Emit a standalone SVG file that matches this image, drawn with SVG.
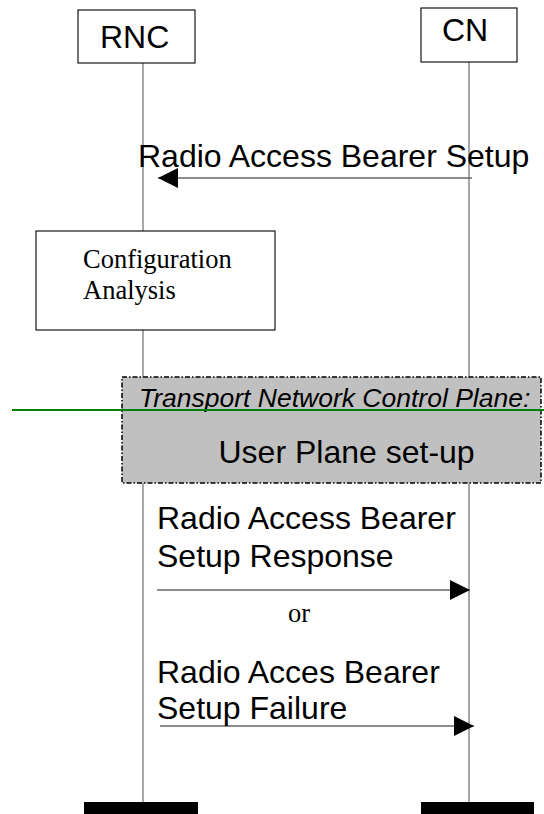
<svg xmlns="http://www.w3.org/2000/svg" width="544" height="814" viewBox="0 0 544 814">
<style>
.life{stroke:#777;stroke-width:1.3;fill:none}
.msg{stroke:#666;stroke-width:1.3;fill:none}
.box{fill:#fff;stroke:#000;stroke-width:1.1}
.ar{font-family:"Liberation Sans",Arial,sans-serif;font-size:32px;fill:#000}
.tm{font-family:"Liberation Serif","Times New Roman",serif;font-size:26.5px;fill:#000}
.bar{fill:#000}
</style>
<defs>
<marker id="ah" markerWidth="20" markerHeight="20" refX="20" refY="10" orient="auto" markerUnits="userSpaceOnUse">
<path d="M0,0 L20,10 L0,20 Z" fill="#000"/>
</marker>
</defs>
<g id="lifelines">
<line class="life" x1="143" y1="63" x2="143" y2="803"/>
<line class="life" x1="469" y1="62" x2="469" y2="803"/>
</g>
<g id="rnc">
<rect class="box" x="78" y="10" width="117" height="53"/>
<text class="ar" x="100" y="48">RNC</text>
</g>
<g id="cn">
<rect class="box" x="421" y="8" width="96" height="54"/>
<text class="ar" x="442" y="41">CN</text>
</g>
<g id="config">
<rect class="box" x="36" y="231" width="239" height="99"/>
<text class="tm" x="83" y="268">Configuration</text>
<text class="tm" x="83" y="299">Analysis</text>
</g>
<g id="tnc">
<rect x="122" y="377" width="419" height="106" fill="#c0c0c0" stroke="#000" stroke-width="1.5" stroke-dasharray="5,2,1.5,2"/>
<text x="139" y="407" font-family="'Liberation Sans',Arial,sans-serif" font-size="26.5" font-style="italic" fill="#000">Transport Network Control Plane:</text>
<text class="ar" x="218.5" y="463">User Plane set-up</text>
<line x1="12" y1="410" x2="544" y2="410" stroke="#008000" stroke-width="1.8"/>
</g>
<g id="connectors">
<line class="msg" x1="472" y1="178" x2="158" y2="178" marker-end="url(#ah)"/>
<line class="msg" x1="157" y1="590" x2="470" y2="590" marker-end="url(#ah)"/>
<line class="msg" x1="160" y1="726" x2="474" y2="726" marker-end="url(#ah)"/>
</g>
<g id="labels">
<text class="ar" x="138" y="167">Radio Access Bearer Setup</text>
<text class="ar" x="157" y="529">Radio Access Bearer</text>
<text class="ar" x="157" y="567">Setup Response</text>
<text class="tm" x="288" y="622" font-size="20">or</text>
<text class="ar" x="157" y="683">Radio Acces Bearer</text>
<text class="ar" x="157" y="719">Setup Failure</text>
</g>
<g id="ends">
<rect class="bar" x="84" y="802" width="114" height="12"/>
<rect class="bar" x="421" y="802" width="113" height="12"/>
</g>
</svg>
